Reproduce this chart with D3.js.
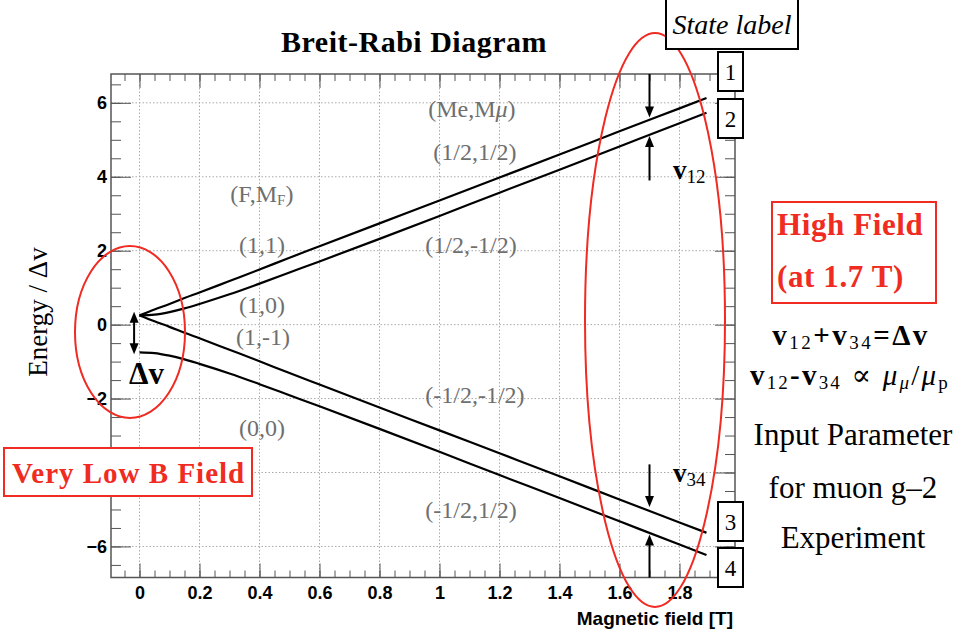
<!DOCTYPE html>
<html>
<head>
<meta charset="utf-8">
<script src="https://cdn.jsdelivr.net/npm/d3@7"></script>
<style>
body { margin: 0; background: #fff; }
svg { display: block; }
</style>
</head>
<body>
<div id="chart"></div>
<script>
// Breit-Rabi levels (energy in units of delta nu)
var fieldT = [0, 0.05, 0.1, 0.15, 0.2, 0.3, 0.4, 0.5, 0.6, 0.8, 1.0, 1.2, 1.4, 1.6, 1.8, 1.89];
var level1 = [0.25, 0.41, 0.56, 0.72, 0.87, 1.18, 1.49, 1.81, 2.12, 2.74, 3.36, 3.98, 4.60, 5.23, 5.85, 6.13];
var level2 = [0.25, 0.27, 0.34, 0.44, 0.56, 0.82, 1.11, 1.41, 1.71, 2.32, 2.94, 3.57, 4.19, 4.82, 5.45, 5.73];
var level3 = [0.25, 0.09, -0.06, -0.22, -0.37, -0.68, -0.99, -1.31, -1.62, -2.24, -2.86, -3.48, -4.10, -4.73, -5.35, -5.63];
var level4 = [-0.75, -0.77, -0.84, -0.94, -1.06, -1.32, -1.61, -1.91, -2.21, -2.82, -3.44, -4.07, -4.69, -5.32, -5.95, -6.23];

var xTicks = [0, 0.2, 0.4, 0.6, 0.8, 1, 1.2, 1.4, 1.6, 1.8];
var yTicks = [-6, -4, -2, 0, 2, 4, 6];
var yHidden = [-4]; // label sits under the "Very Low B Field" box

// grey quantum number labels (html, B, E)
var stateText = ["(Me,M<tspan font-style='italic'>μ</tspan>)", "(1/2,1/2)", "(F,M<tspan font-size='15' dy='3'>F</tspan><tspan dy='-3'>)</tspan>",
    "(1,1)", "(1/2,-1/2)", "(1,0)", "(1,-1)", "(-1/2,-1/2)", "(0,0)", "(-1/2,1/2)"];
var stateB = [1.108, 1.118, 0.408, 0.408, 1.105, 0.408, 0.412, 1.118, 0.408, 1.105];
var stateE = [5.62, 4.45, 3.32, 1.94, 1.94, 0.31, -0.55, -2.12, -3.0, -5.23];

// arrows at 1.7 T: [from, to] in energy units
var arrowB = 1.7;
var splitArrows = [[6.78, 5.6], [3.9, 5.1], [-3.78, -4.93], [-6.84, -5.68]];
var deltaB = -0.018, deltaTop = 0.35, deltaBottom = -0.8;

var red = "#ef2b22";
var serif = "'Liberation Serif', 'DejaVu Serif', serif";
var sans = "'Liberation Sans', Arial, sans-serif";

var svg = d3.select("#chart").append("svg")
    .attr("width", 961)
    .attr("height", 639);

var x = d3.scaleLinear().domain([-0.095, 1.985]).range([111, 735]);
var y = d3.scaleLinear().domain([-6.84, 6.78]).range([577.5, 74]);

// grid
svg.append("g").selectAll("line").data(xTicks).enter().append("line")
    .attr("x1", function (d) { return x(d); })
    .attr("x2", function (d) { return x(d); })
    .attr("y1", 74).attr("y2", 577.5)
    .style("stroke", "#aaa").style("stroke-dasharray", "1.5,2");
svg.append("g").selectAll("line").data(yTicks).enter().append("line")
    .attr("y1", function (d) { return y(d); })
    .attr("y2", function (d) { return y(d); })
    .attr("x1", 111).attr("x2", 735)
    .style("stroke", "#aaa").style("stroke-dasharray", "1.5,2");

// axes, ticks pointing inwards
function axisG(axis, tx, ty) {
    var g = svg.append("g").attr("transform", "translate(" + tx + "," + ty + ")").call(axis);
    g.select(".domain").remove();
    g.selectAll(".tick line").style("stroke", "#555");
    g.selectAll("text").style("font-family", sans).style("font-weight", "bold")
        .style("font-size", "18px").style("fill", "#000");
    return g;
}
var xMinor = d3.range(-0.05, 1.96, 0.05);
var yMinor = d3.range(-6.5, 6.6, 0.5);
var fmtY = d3.format("d");

axisG(d3.axisBottom(x).tickValues(xTicks).tickSize(-14).tickPadding(9).tickFormat(d3.format("~g")), 0, 577.5);
axisG(d3.axisBottom(x).tickValues(xMinor).tickSize(-7).tickFormat(""), 0, 577.5);
axisG(d3.axisTop(x).tickValues(xTicks).tickSize(-14).tickFormat(""), 0, 74);
axisG(d3.axisTop(x).tickValues(xMinor).tickSize(-7).tickFormat(""), 0, 74);
axisG(d3.axisLeft(y).tickValues(yTicks).tickSize(-20).tickPadding(4)
    .tickFormat(function (d) { return yHidden.indexOf(d) < 0 ? fmtY(d) : ""; }), 111, 0);
axisG(d3.axisLeft(y).tickValues(yMinor).tickSize(-10).tickFormat(""), 111, 0);
axisG(d3.axisRight(y).tickValues(yTicks).tickSize(-20).tickFormat(""), 735, 0);
axisG(d3.axisRight(y).tickValues(yMinor).tickSize(-10).tickFormat(""), 735, 0);

svg.append("rect")
    .attr("x", 111).attr("y", 74).attr("width", 624).attr("height", 503.5)
    .style("fill", "none").style("stroke", "#555").style("stroke-width", 1.5);

// levels
var line = d3.line()
    .x(function (d) { return x(d[0]); })
    .y(function (d) { return y(d[1]); })
    .curve(d3.curveMonotoneX);

[level1, level2, level3, level4].forEach(function (lv) {
    svg.append("path")
        .datum(fieldT.map(function (b, i) { return [b, lv[i]]; }))
        .attr("d", line)
        .style("fill", "none")
        .style("stroke", "#000")
        .style("stroke-width", 2.2);
});

// grey labels
svg.append("g").selectAll("text").data(stateText).enter().append("text")
    .attr("x", function (d, i) { return x(stateB[i]); })
    .attr("y", function (d, i) { return y(stateE[i]); })
    .attr("text-anchor", "middle")
    .style("font-family", serif).style("font-size", "24px").style("fill", "#6f6f6f")
    .html(function (d) { return d; });

// arrows
function arrow(px, y0, y1) {
    var dir = y1 > y0 ? 1 : -1;
    svg.append("line")
        .attr("x1", px).attr("x2", px).attr("y1", y0).attr("y2", y1 - dir * 9)
        .style("stroke", "#000").style("stroke-width", 2);
    svg.append("path")
        .attr("d", "M" + (px - 4.5) + "," + (y1 - dir * 11) + "L" + px + "," + y1 + "L" + (px + 4.5) + "," + (y1 - dir * 11) + "Z")
        .style("fill", "#000");
}
splitArrows.forEach(function (a) { arrow(x(arrowB), y(a[0]), y(a[1])); });
var dMid = (y(deltaTop) + y(deltaBottom)) / 2;
arrow(x(deltaB), dMid, y(deltaTop));
arrow(x(deltaB), dMid, y(deltaBottom));

// rich text helper: parts {t, sub, it, w}
function rich(sel, parts) {
    var shift = 0;
    parts.forEach(function (p) {
        var target = p.sub ? 4 : 0;
        var t = sel.append("tspan").text(p.t).attr("dy", target - shift);
        shift = target;
        if (p.sub) t.style("font-size", p.sub + "px");
        if (p.it) t.style("font-style", "italic");
        if (p.w) t.style("font-weight", p.w);
    });
    return sel;
}
function txt(tx, ty, size, anchor) {
    return svg.append("text").attr("x", tx).attr("y", ty)
        .attr("text-anchor", anchor || "start")
        .style("font-family", serif).style("font-size", size + "px");
}

// titles
txt(414, 52, 30, "middle").style("font-weight", "bold").style("letter-spacing", "0.5px").text("Breit-Rabi Diagram");
svg.append("text")
    .attr("transform", "translate(47,312) rotate(-90)")
    .attr("text-anchor", "middle")
    .style("font-family", serif).style("font-size", "27px")
    .text("Energy / Δv");
svg.append("text")
    .attr("x", 733).attr("y", 625)
    .attr("text-anchor", "end")
    .style("font-family", sans).style("font-weight", "bold").style("font-size", "19px")
    .text("Magnetic field [T]");

// delta nu and splittings
txt(129, 384, 31).style("font-weight", "bold").text("Δv");
rich(txt(673, 179, 27).style("font-weight", "bold"), [{ t: "v" }, { t: "12", sub: 19, w: "normal" }]);
rich(txt(673, 482, 27).style("font-weight", "bold"), [{ t: "v" }, { t: "34", sub: 19, w: "normal" }]);

// red ellipses
svg.append("ellipse").attr("cx", 130).attr("cy", 332).attr("rx", 55).attr("ry", 86)
    .style("fill", "none").style("stroke", red).style("stroke-width", 2);
svg.append("ellipse").attr("cx", 655).attr("cy", 320).attr("rx", 70).attr("ry", 287)
    .style("fill", "none").style("stroke", red).style("stroke-width", 2);

// state label boxes
svg.append("rect").attr("x", 666).attr("y", -1).attr("width", 132).attr("height", 50)
    .style("fill", "#fff").style("stroke", "#000").style("stroke-width", 2);
txt(732, 34, 28, "middle").style("font-style", "italic").text("State label");

var boxTop = [52, 99, 502, 548];
boxTop.forEach(function (t, i) {
    svg.append("rect").attr("x", 718).attr("y", t).attr("width", 25).attr("height", 39)
        .style("fill", "#fff").style("stroke", "#000").style("stroke-width", 2);
    txt(730.5, t + 28, 23, "middle").text(String(i + 1));
});

// low field box
svg.append("rect").attr("x", 4).attr("y", 448).attr("width", 248).attr("height", 48)
    .style("fill", "#fff").style("stroke", red).style("stroke-width", 2);
txt(12, 483, 29).style("font-weight", "bold").style("letter-spacing", "1px").style("fill", red).text("Very Low B Field");

// high field box
svg.append("rect").attr("x", 772).attr("y", 202).attr("width", 164).attr("height", 101)
    .style("fill", "#fff").style("stroke", red).style("stroke-width", 2);
txt(777, 235, 31).style("font-weight", "bold").style("letter-spacing", "0.6px").style("fill", red).text("High Field");
txt(777, 287, 31).style("font-weight", "bold").style("letter-spacing", "0.6px").style("fill", red).text("(at 1.7 T)");

rich(txt(851, 345, 29, "middle").style("font-weight", "bold").style("letter-spacing", "2.5px"), [
    { t: "v" }, { t: "12", sub: 19, w: "normal" }, { t: "+v" }, { t: "34", sub: 19, w: "normal" }, { t: "=Δv" }]);
rich(txt(850, 385, 29, "middle").style("font-weight", "bold").style("letter-spacing", "2.2px"), [
    { t: "v" }, { t: "12", sub: 19, w: "normal" }, { t: "-v" }, { t: "34", sub: 19, w: "normal" },
    { t: " ∝ ", w: "normal" }, { t: "μ", it: true, w: "normal" }, { t: "μ", sub: 19, it: true, w: "normal" },
    { t: "/", w: "normal" }, { t: "μ", it: true, w: "normal" }, { t: "p", sub: 19, w: "normal" }]);
txt(853, 445, 31, "middle").text("Input Parameter");
txt(853, 498, 31, "middle").text("for muon g–2");
txt(853, 548, 31, "middle").text("Experiment");
</script>
</body>
</html>
